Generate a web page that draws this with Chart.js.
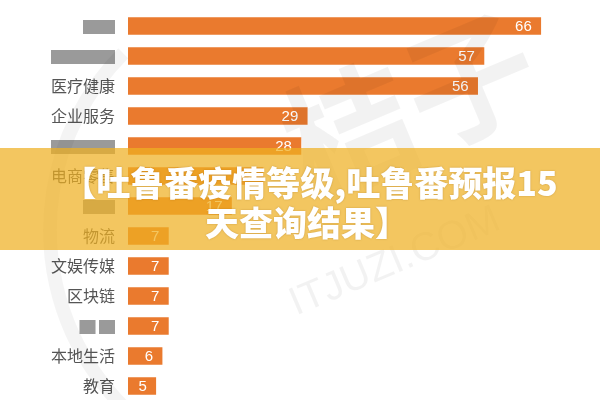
<!DOCTYPE html>
<html>
<head>
<meta charset="utf-8">
<script src="https://cdn.jsdelivr.net/npm/chart.js@4"></script>
<style>
  html, body { margin: 0; padding: 0; background: #fff; overflow: hidden; }
  #wrap { width: 600px; height: 412px; position: relative; }
</style>
</head>
<body>
<div id="wrap"><canvas id="rankChart"></canvas></div>
<script>
// categories (mosaic-blurred labels kept as block glyphs)
const categories = ['▇▇', '▇▇▇▇', '医疗健康', '企业服务', '▇▇▇▇', '电商零售', '▇▇', '物流', '文娱传媒', '区块链', '▇ ▇', '本地生活', '教育'];
const counts = [66, 57, 56, 29, 28, 22, 17, 7, 7, 7, 7, 6, 5];
const blurred = [0, 1, 4, 6, 10];
const titleLines = ['【吐鲁番疫情等级,吐鲁番预报15', '天查询结果】'];

const barColor = '#EA7A2E';

// value labels drawn at the end of each bar
const valueLabels = {
  id: 'valueLabels',
  afterDatasetsDraw(chart) {
    const ctx = chart.ctx;
    const meta = chart.getDatasetMeta(0);
    ctx.save();
    ctx.font = '15px "Liberation Sans", Arial, sans-serif';
    ctx.fillStyle = '#fff';
    ctx.textAlign = 'right';
    ctx.textBaseline = 'middle';
    meta.data.forEach((bar, i) => {
      ctx.fillText(String(counts[i]), bar.x - 9, bar.y + 1);
    });
    ctx.restore();
  }
};

// faint watermark + translucent banner with title on top
const overlay = {
  id: 'overlay',
  afterDraw(chart) {
    const ctx = chart.ctx;
    ctx.save();
    // watermark
    ctx.strokeStyle = 'rgba(0,0,0,0.045)';
    ctx.lineWidth = 14;
    ctx.beginPath();
    ctx.arc(300, 230, 250, Math.PI * 0.55, Math.PI * 1.25);
    ctx.stroke();
    ctx.fillStyle = 'rgba(0,0,0,0.05)';
    ctx.textAlign = 'center';
    ctx.textBaseline = 'middle';
    ctx.save();
    ctx.translate(410, 105);
    ctx.rotate(-0.4);
    ctx.font = 'bold 130px "Noto Sans CJK SC", sans-serif';
    ctx.fillText('桔子', 0, 0);
    ctx.restore();
    ctx.translate(395, 262);
    ctx.rotate(-0.4);
    ctx.font = '40px "Liberation Sans", Arial, sans-serif';
    ctx.fillText('ITJUZI.COM', 0, 0);
    ctx.restore();

    // banner
    ctx.save();
    ctx.fillStyle = 'rgba(239,176,35,0.72)';
    ctx.fillRect(0, 148, chart.width, 102);
    ctx.font = '900 34px "Noto Sans CJK SC", sans-serif';
    ctx.fillStyle = '#fff';
    ctx.textAlign = 'center';
    ctx.textBaseline = 'middle';
    ctx.shadowColor = 'rgba(120,70,0,0.35)';
    ctx.shadowBlur = 2;
    ctx.fillText(titleLines[0], 310, 183);
    ctx.fillText(titleLines[1], 307, 223);
    ctx.restore();
  }
};

new Chart(document.getElementById('rankChart'), {
  type: 'bar',
  data: {
    labels: categories,
    datasets: [{
      data: counts,
      backgroundColor: barColor,
      barThickness: 17,
      borderWidth: 0,
      clip: 0
    }]
  },
  options: {
    indexAxis: 'y',
    responsive: true,
    maintainAspectRatio: false,
    animation: false,
    layout: { padding: { top: 11, right: 34, bottom: 11, left: 0 } },
    plugins: {
      legend: { display: false },
      tooltip: { enabled: false }
    },
    scales: {
      x: {
        display: false,
        min: 0.6,
        max: 70
      },
      y: {
        afterFit(scale) { scale.width = 128; },
        grid: { display: false },
        border: { display: false },
        ticks: {
          padding: 5,
          autoSkip: false,
          font: { size: 16, lineHeight: 0.6, family: '"Noto Sans CJK SC", sans-serif' },
          color: (c) => blurred.includes(c.index) ? '#9a9a9a' : '#555'
        }
      }
    }
  },
  plugins: [valueLabels, overlay]
});
</script>
</body>
</html>
